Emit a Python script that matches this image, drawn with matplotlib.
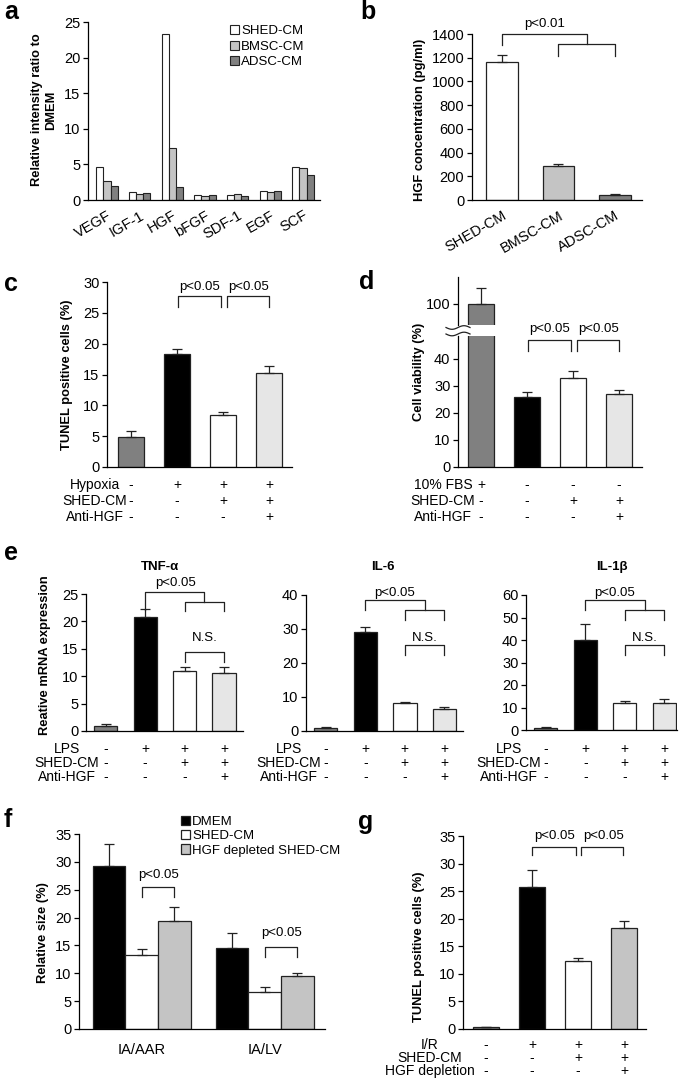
import matplotlib.pyplot as plt
import matplotlib.transforms as mtransforms
from matplotlib.lines import Line2D
import numpy as np

plt.rcParams['font.family'] = ['Liberation Sans', 'DejaVu Sans']
plt.rcParams['font.size'] = 9
plt.rcParams['axes.linewidth'] = 0.9

W, H = 685, 1081

# ---- data ----
# a: cytokine array
factors = ['VEGF', 'IGF-1', 'HGF', 'bFGF', 'SDF-1', 'EGF', 'SCF']
shed_a = [4.7, 1.1, 23.3, 0.7, 0.7, 1.3, 4.7]
bmsc_a = [2.7, 0.9, 7.3, 0.6, 0.8, 1.1, 4.5]
adsc_a = [2.0, 1.0, 1.8, 0.7, 0.6, 1.2, 3.5]

# b: HGF ELISA
cm_sources = ['SHED-CM', 'BMSC-CM', 'ADSC-CM']
hgf_conc = [1160, 290, 45]
hgf_err = [60, 15, 8]

# c: TUNEL in vitro
tunel_c = [4.8, 18.4, 8.4, 15.2]
tunel_c_err = [1.0, 0.8, 0.6, 1.2]
cond_c_names = ['Hypoxia', 'SHED-CM', 'Anti-HGF']
cond_c = [['-', '+', '+', '+'], ['-', '-', '+', '+'], ['-', '-', '-', '+']]

# d: cell viability
viab_d = [100, 26.0, 33.0, 27.0]
viab_d_err = [6.0, 1.8, 2.4, 1.5]
cond_d_names = ['10% FBS', 'SHED-CM', 'Anti-HGF']
cond_d = [['+', '-', '-', '-'], ['-', '-', '+', '+'], ['-', '-', '-', '+']]

# e: mRNA expression
tnf = [1.0, 20.8, 11.0, 10.5]
tnf_err = [0.3, 1.4, 0.7, 1.1]
il6 = [1.0, 29.0, 8.2, 6.6]
il6_err = [0.2, 1.5, 0.4, 0.5]
il1b = [1.0, 39.8, 12.2, 12.2]
il1b_err = [0.3, 7.2, 0.8, 1.7]
cond_e_names = ['LPS', 'SHED-CM', 'Anti-HGF']
cond_e = [['-', '+', '+', '+'], ['-', '-', '+', '+'], ['-', '-', '-', '+']]

# f: infarct size
regions = ['IA/AAR', 'IA/LV']
dmem_f = [29.3, 14.5]
dmem_f_err = [3.9, 2.7]
shed_f = [13.3, 6.6]
shed_f_err = [1.1, 0.9]
hgfdep_f = [19.4, 9.5]
hgfdep_f_err = [2.5, 0.5]

# g: TUNEL in vivo
tunel_g = [0.3, 25.8, 12.3, 18.3]
tunel_g_err = [0.1, 3.1, 0.6, 1.3]
cond_g_names = ['I/R', 'SHED-CM', 'HGF depletion']
cond_g = [['-', '+', '+', '+'], ['-', '-', '+', '+'], ['-', '-', '-', '+']]

DARK = '#808080'
MID = '#c4c4c4'
LIGHT = '#e6e6e6'
LINE = '#222222'
TICK_FS = 10.5
COND_FS = 10

fig = plt.figure(figsize=(W / 100, H / 100), dpi=100)


def fy(y):
    return 1 - y / H


def make_ax(l, t, r, b):
    ax = fig.add_axes([l / W, 1 - b / H, (r - l) / W, (b - t) / H])
    ax.spines[['top', 'right']].set_visible(False)
    ax.tick_params(axis='y', length=3.5, width=0.9, labelsize=TICK_FS, pad=2)
    ax.tick_params(axis='x', length=0, labelsize=TICK_FS)
    return ax


def draw_bars(ax, x, vals, errs, colors, width):
    ax.bar(x, vals, width, color=colors, edgecolor=LINE, linewidth=0.9,
           yerr=[np.zeros(len(errs)), errs],
           error_kw=dict(ecolor=LINE, elinewidth=0.9, capsize=3.5, capthick=0.9),
           zorder=2)


def bracket(ax, x1, x2, ytop, ybot):
    ax.plot([x1, x1, x2, x2], [ybot, ytop, ytop, ybot], color=LINE, lw=0.9,
            clip_on=False)


def nested(ax, x0, x1, x2, ytop, yleg, ysub, ysubleg):
    xm = (x1 + x2) / 2
    ax.plot([x0, x0, xm, xm], [yleg, ytop, ytop, ysub], color=LINE, lw=0.9,
            clip_on=False)
    bracket(ax, x1, x2, ysub, ysubleg)


def conditions(ax, names, signs, ys, label_x):
    tr = mtransforms.blended_transform_factory(ax.transData, fig.transFigure)
    for name, row, y in zip(names, signs, ys):
        fig.text(label_x / W, fy(y), name, ha='center', va='center',
                 fontsize=COND_FS)
        for i, s in enumerate(row):
            ax.text(i, fy(y), s, transform=tr, ha='center', va='center',
                    fontsize=COND_FS)


def ylab(x, y, s):
    fig.text(x / W, fy(y), s, rotation=90, ha='center', va='center',
             fontweight='bold', fontsize=9.3, multialignment='center')


def panel(x, y, s):
    fig.text(x / W, fy(y), s, ha='left', va='center', fontweight='bold',
             fontsize=18)


# ---- a ----
ax = make_ax(88, 22, 320, 200)
xa = np.arange(len(factors))
wa = 0.22
for k, (vals, col, lab) in enumerate(zip([shed_a, bmsc_a, adsc_a],
                                         ['white', MID, DARK],
                                         ['SHED-CM', 'BMSC-CM', 'ADSC-CM'])):
    ax.bar(xa + (k - 1) * wa, vals, wa, color=col, edgecolor=LINE,
           linewidth=0.8, label=lab, zorder=2)
ax.set_xlim(-0.58, 6.52)
ax.set_ylim(0, 25)
ax.set_yticks(range(0, 26, 5))
ax.set_xticks(xa)
ax.set_xticklabels(factors, rotation=30, ha='right', rotation_mode='anchor')
ax.tick_params(axis='x', pad=6)
ax.legend(loc='upper left', bbox_to_anchor=(230 / W, fy(25)),
          bbox_transform=fig.transFigure, frameon=False, fontsize=9.5,
          handlelength=0.7, handleheight=0.7, handletextpad=0.15,
          labelspacing=0.25, borderpad=0, borderaxespad=0)
ylab(44, 110, 'Relative intensity ratio to\nDMEM')
panel(4, 12, 'a')

# ---- b ----
ax = make_ax(472, 34, 642, 200)
xb = np.arange(len(cm_sources))
draw_bars(ax, xb, hgf_conc, hgf_err, ['white', MID, DARK], 0.56)
ax.set_xlim(-0.53, 2.48)
ax.set_ylim(0, 1400)
ax.set_yticks(range(0, 1401, 200))
ax.set_xticks(xb)
ax.set_xticklabels(cm_sources, rotation=30, ha='right', rotation_mode='anchor')
ax.tick_params(axis='x', pad=6)
nested(ax, 0, 1, 2, 1400, 1307, 1315, 1214)
ax.text(0.76, 1483, 'p<0.01', ha='center', va='center', fontsize=9.5)
ylab(420, 120, 'HGF concentration (pg/ml)')
panel(360, 12, 'b')

# ---- c ----
ax = make_ax(107, 282, 292, 467)
x4 = np.arange(4)
draw_bars(ax, x4, tunel_c, tunel_c_err, [DARK, 'black', 'white', LIGHT], 0.565)
ax.set_xlim(-0.52, 3.5)
ax.set_ylim(0, 30)
ax.set_yticks(range(0, 31, 5))
ax.set_xticks([])
bracket(ax, 1.02, 1.96, 27.7, 25.9)
bracket(ax, 2.08, 3.0, 27.7, 25.9)
ax.text(1.5, 29.2, 'p<0.05', ha='center', va='center', fontsize=9.5)
ax.text(2.55, 29.2, 'p<0.05', ha='center', va='center', fontsize=9.5)
conditions(ax, cond_c_names, cond_c, [485, 501, 517], 95)
ylab(67, 375, 'TUNEL positive cells (%)')
panel(4, 284, 'c')

# ---- d (broken axis) ----
axu = make_ax(458, 277, 642, 325)
axl = make_ax(458, 336, 642, 467)
axu.spines['bottom'].set_visible(False)
draw_bars(axu, x4, viab_d, viab_d_err, [DARK, 'black', 'white', LIGHT], 0.565)
draw_bars(axl, x4, viab_d, viab_d_err, [DARK, 'black', 'white', LIGHT], 0.565)
for a_ in (axu, axl):
    a_.set_xlim(-0.5, 3.5)
    a_.set_xticks([])
axu.set_ylim(92.2, 110)
axu.set_yticks([100])
axl.set_ylim(0, 48.5)
axl.set_yticks(range(0, 41, 10))
bracket(axl, 1.02, 1.96, 47.0, 43.0)
bracket(axl, 2.08, 3.0, 47.0, 43.0)
axl.text(1.5, 51.0, 'p<0.05', ha='center', va='center', fontsize=9.5)
axl.text(2.55, 51.0, 'p<0.05', ha='center', va='center', fontsize=9.5)
conditions(axl, cond_d_names, cond_d, [485, 501, 517], 443)
ylab(419, 372, 'Cell viability (%)')
panel(359, 282, 'd')
# break marks
t = np.linspace(0, 1, 40)
for yc in (327.5, 334):
    xs = 446 + 24 * t
    ys = yc + 1.8 * np.sin(2 * np.pi * t)
    fig.add_artist(Line2D(xs / W, 1 - ys / H, color=LINE, lw=0.9,
                          transform=fig.transFigure))

# ---- e ----
e_specs = [
    ('TNF-\u03b1', tnf, tnf_err, (86, 594, 243, 731), 25, 5, 3.48, 160, 67,
     (1.77, 27.0, 25.4, 22.1, 23.5, 21.9, 17.0, 14.4, 12.6)),
    ('IL-6', il6, il6_err, (306, 595, 463, 731), 40, 10, 3.47, 383, 289,
     (1.75, 40.6, 38.5, 35.6, 35.6, 32.6, 27.4, 25.3, 22.4)),
    ('IL-1\u03b2', il1b, il1b_err, (526, 595, 677, 730), 60, 10, 3.32, 612, 509,
     (1.75, 61.0, 57.8, 53.3, 53.3, 48.9, 41.0, 37.8, 33.3)),
]
for title, vals, errs, box, ymax, step, xr, tx, lx, br in e_specs:
    ax = make_ax(*box)
    draw_bars(ax, x4, vals, errs, [DARK, 'black', 'white', LIGHT], 0.59)
    ax.set_xlim(-0.5, xr)
    ax.set_ylim(0, ymax)
    ax.set_yticks(range(0, ymax + 1, step))
    ax.set_xticks([])
    ptx, pty, top, leg, sub, subleg, nsy, nstop, nsleg = br
    nested(ax, 1, 2, 3, top, leg, sub, subleg)
    ax.text(ptx, pty, 'p<0.05', ha='center', va='center', fontsize=9.5)
    bracket(ax, 2, 3, nstop, nsleg)
    ax.text(2.5, nsy, 'N.S.', ha='center', va='center', fontsize=9.5)
    fig.text(tx / W, fy(567), title, ha='center', va='center',
             fontweight='bold', fontsize=9.5)
    conditions(ax, cond_e_names, cond_e, [749, 763, 777], lx)
ylab(45, 655, 'Reative mRNA expression')
panel(4, 553, 'e')

# ---- f ----
ax = make_ax(79, 834, 325, 1029)
xf = np.arange(len(regions))
wf = 0.266
for k, (vals, errs, col, lab) in enumerate(zip(
        [dmem_f, shed_f, hgfdep_f], [dmem_f_err, shed_f_err, hgfdep_f_err],
        ['black', 'white', MID], ['DMEM', 'SHED-CM', 'HGF depleted SHED-CM'])):
    ax.bar(xf + (k - 1) * wf, vals, wf, color=col, edgecolor=LINE,
           linewidth=0.9, label=lab, yerr=[np.zeros(len(errs)), errs],
           error_kw=dict(ecolor=LINE, elinewidth=0.9, capsize=3.5, capthick=0.9),
           zorder=2)
ax.set_xlim(-0.51, 1.49)
ax.set_ylim(0, 35)
ax.set_yticks(range(0, 36, 5))
ax.set_xticks(xf)
ax.set_xticklabels(regions)
ax.tick_params(axis='x', pad=10)
bracket(ax, 0.0, wf, 25.5, 23.7)
ax.text(wf / 2, 27.6, 'p<0.05', ha='center', va='center', fontsize=9.5)
bracket(ax, 1.0, 1 + wf, 14.7, 12.9)
ax.text(1 + wf / 2, 17.2, 'p<0.05', ha='center', va='center', fontsize=9.5)
ax.legend(loc='upper left', bbox_to_anchor=(181 / W, fy(816)),
          bbox_transform=fig.transFigure, frameon=False, fontsize=9.5,
          handlelength=0.7, handleheight=0.7, handletextpad=0.15,
          labelspacing=0.15, borderpad=0, borderaxespad=0)
ylab(43, 933, 'Relative size (%)')
panel(4, 820, 'f')

# ---- g ----
ax = make_ax(463, 836, 646, 1029)
draw_bars(ax, x4, tunel_g, tunel_g_err, [DARK, 'black', 'white', MID], 0.565)
ax.set_xlim(-0.5, 3.48)
ax.set_ylim(0, 35)
ax.set_yticks(range(0, 36, 5))
ax.set_xticks([])
bracket(ax, 1.0, 1.96, 33.0, 31.6)
bracket(ax, 2.07, 2.98, 33.0, 31.6)
ax.text(1.5, 35.0, 'p<0.05', ha='center', va='center', fontsize=9.5)
ax.text(2.55, 35.0, 'p<0.05', ha='center', va='center', fontsize=9.5)
conditions(ax, cond_g_names, cond_g, [1045, 1058, 1071], 430)
ylab(419, 947, 'TUNEL positive cells (%)')
panel(358, 822, 'g')

fig.savefig('out.png', dpi=100)
